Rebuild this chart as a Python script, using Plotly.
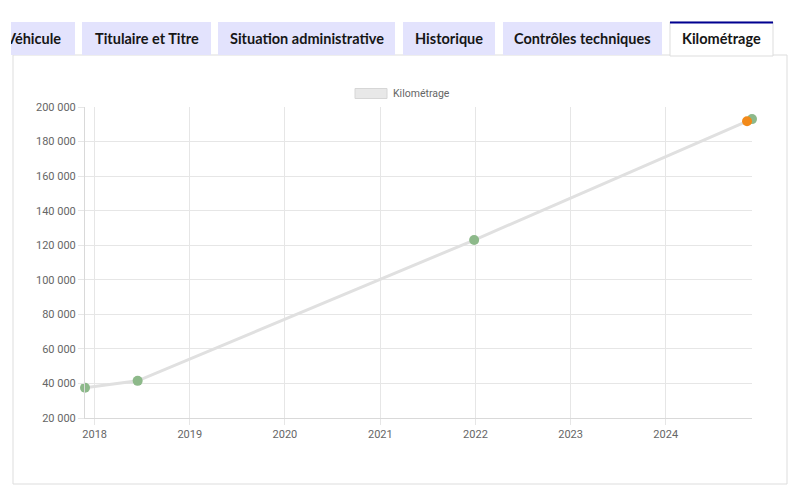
import plotly.graph_objects as go

dates = ["2017-11-25", "2018-06-15", "2021-12-27", "2024-11-08", "2024-11-27"]
kms = [37500, 41500, 123000, 191800, 193000]
series_name = "Kilométrage"
tabs = ["Véhicule", "Titulaire et Titre", "Situation administrative", "Historique",
        "Contrôles techniques", "Kilométrage"]

W, H = 800, 490
ML, MR, MT, MB = 85, 48, 107, 72
PW, PH = W - ML - MR, H - MT - MB

def px(x):
    return (x - ML) / PW

def py(y):
    return (H - MB - y) / PH

fig = go.Figure()
fig.add_trace(go.Scatter(
    x=dates, y=kms, mode="lines", name=series_name,
    line=dict(color="#e0e0e0", width=3), hoverinfo="skip", showlegend=False, cliponaxis=False))
fig.add_trace(go.Scatter(
    x=[dates[i] for i in (0, 1, 2, 4)], y=[kms[i] for i in (0, 1, 2, 4)], mode="markers",
    marker=dict(color="#8db98a", size=10, line=dict(width=0)), showlegend=False, cliponaxis=False))
fig.add_trace(go.Scatter(
    x=[dates[3]], y=[kms[3]], mode="markers",
    marker=dict(color="#f28a1a", size=10, line=dict(width=0)), showlegend=False, cliponaxis=False))

shapes = []
annotations = []
# panel border
shapes.append(dict(type="rect", xref="paper", yref="paper", x0=px(13), x1=px(787), y0=py(484), y1=py(55),
                   line=dict(color="#dddddd", width=1), fillcolor="rgba(0,0,0,0)", layer="below"))
tab_boxes = [(11, 75), (82, 211), (218, 395), (403, 495), (503, 662), (670, 773)]
for i, (t, (a, b)) in enumerate(zip(tabs, tab_boxes)):
    active = i == len(tabs) - 1
    if active:
        shapes.append(dict(type="rect", xref="paper", yref="paper", x0=px(a), x1=px(b), y0=py(56), y1=py(22),
                           line=dict(color="#dddddd", width=1), fillcolor="white", layer="below"))
        shapes.append(dict(type="rect", xref="paper", yref="paper", x0=px(a), x1=px(b), y0=py(23.5), y1=py(21.5),
                           line=dict(width=0), fillcolor="#000091", layer="below"))
    else:
        shapes.append(dict(type="rect", xref="paper", yref="paper", x0=px(a), x1=px(b), y0=py(55), y1=py(22),
                           line=dict(width=0), fillcolor="#e3e3fd", layer="below"))
    cx = (a + b) / 2 if i > 0 else 33
    annotations.append(dict(text=t, xref="paper", yref="paper", x=px(cx), y=py(39), xanchor="center",
                            yanchor="middle", showarrow=False,
                            font=dict(family="Lato", size=14.5, color="#161616", weight="bold")))
# mask clipping the first tab's text at its scrolled edge
annotations.append(dict(text=" ", xref="paper", yref="paper", x=px(0), y=py(18), xanchor="left", yanchor="top",
                        width=11, height=42, bgcolor="white", borderpad=0, borderwidth=0, showarrow=False))
# legend box
shapes.append(dict(type="rect", xref="paper", yref="paper", x0=px(355), x1=px(387), y0=py(98.5), y1=py(88.5),
                   line=dict(color="#d6d6d6", width=1), fillcolor="#e8e8e8"))
annotations.append(dict(text=series_name, xref="paper", yref="paper", x=px(391), y=py(93.5), xanchor="left",
                        yanchor="middle", showarrow=False, font=dict(family="Roboto", size=10.5, color="#666666")))

fig.update_layout(
    width=W, height=H, margin=dict(l=ML, r=MR, t=MT, b=MB),
    paper_bgcolor="white", plot_bgcolor="white",
    font=dict(family="Roboto", size=11, color="#666666"),
    shapes=shapes, annotations=annotations, showlegend=False,
    xaxis=dict(type="date", range=[dates[0], dates[-1]], tick0="2018-01-01", dtick="M12", tickformat="%Y",
               showgrid=True, gridcolor="#e6e6e6", gridwidth=1, showline=True, linecolor="#d9d9d9",
               ticks="outside", ticklen=6, tickcolor="#e6e6e6", zeroline=False,
               tickfont=dict(family="Roboto", size=11, color="#666666")),
    yaxis=dict(range=[20000, 200000], dtick=20000, tickformat=",d", separatethousands=True,
               showgrid=True, gridcolor="#e6e6e6", gridwidth=1, showline=True, linecolor="#d9d9d9",
               ticks="outside", ticklen=6, tickcolor="#e6e6e6", zeroline=False,
               tickfont=dict(family="Roboto", size=11, color="#666666")),
    separators=". ",
)

fig.write_html("out.html")
